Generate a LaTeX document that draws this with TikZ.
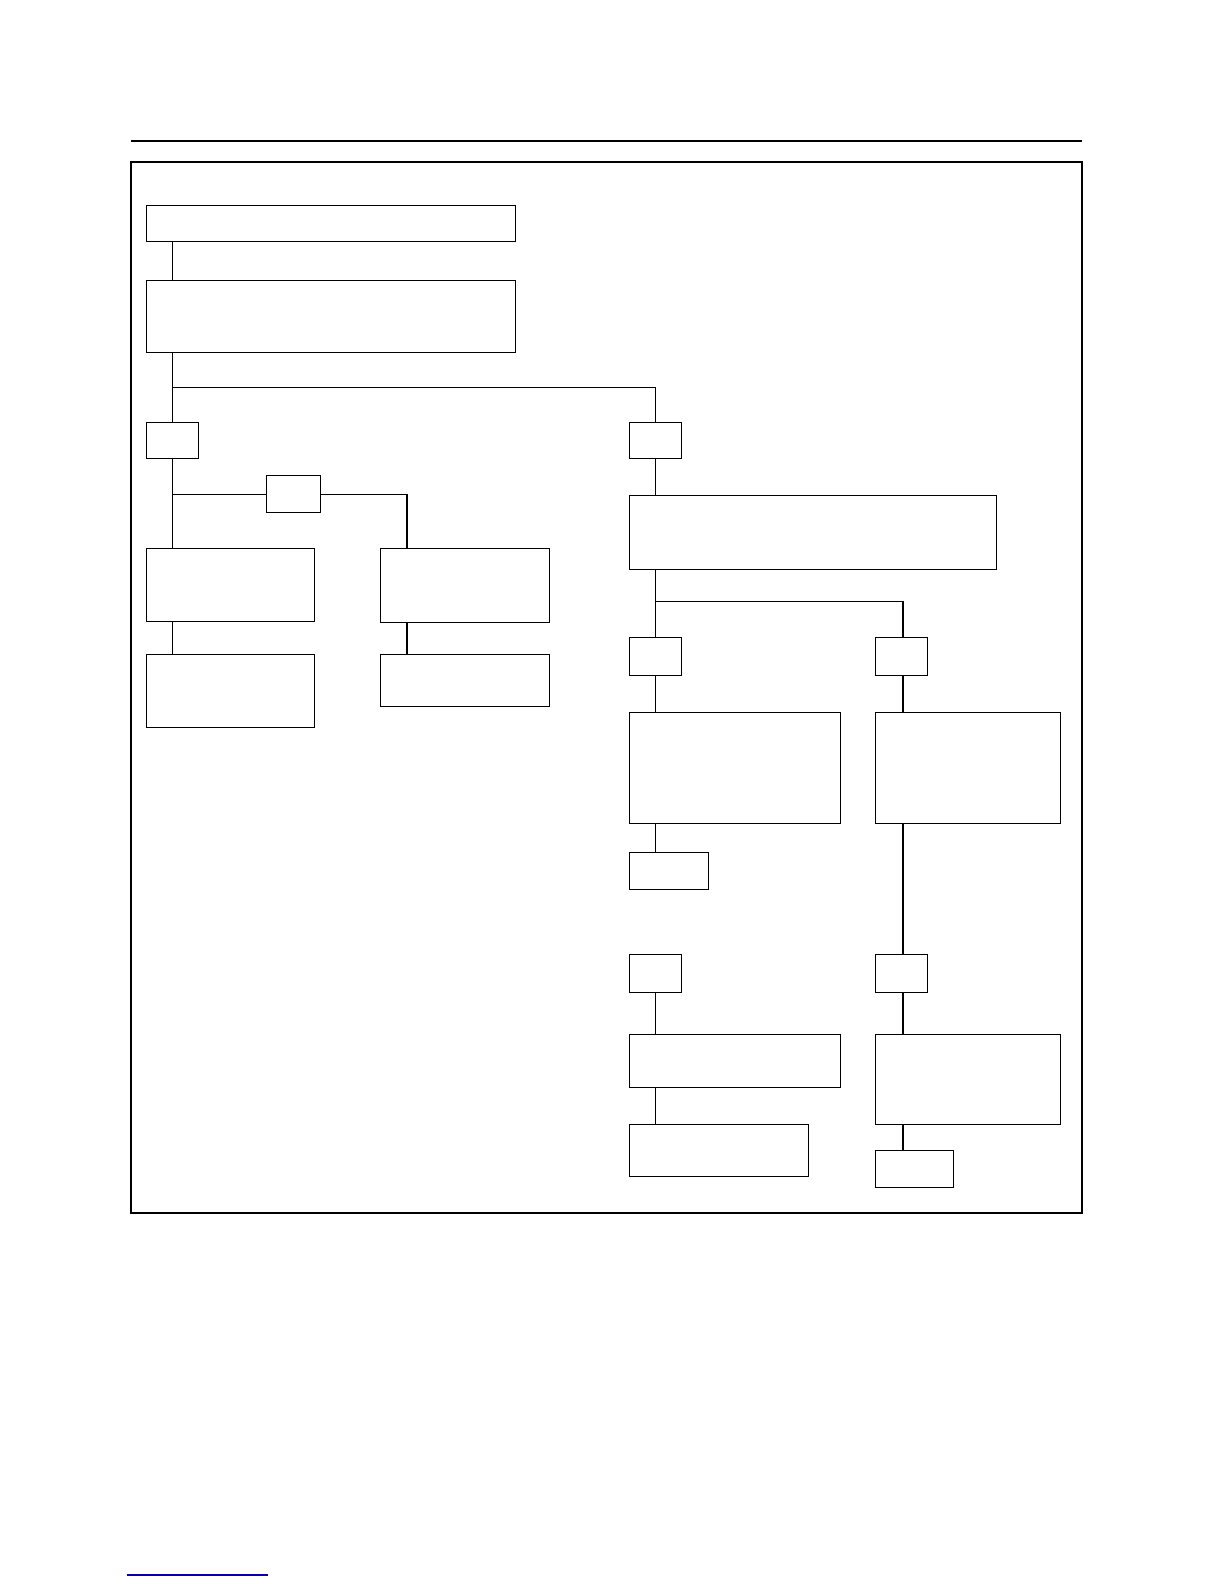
\documentclass[tikz,border=0pt]{standalone}
\usepackage{tikz}
\usetikzlibrary{positioning}
\usetikzlibrary{calc}
\tikzstyle{block} = [draw, rectangle, line width=1.2pt, inner sep=0pt, anchor=north west]
\tikzstyle{link} = [line width=1.2pt]
\tikzstyle{coord} = [coordinate]

\begin{document}
\begin{tikzpicture}[x=1pt,y=-1pt]
    \useasboundingbox (0,0) rectangle (1224,1584);
    \draw [line width=2.4pt] (131,141) -- (1082,141);
    \draw [line width=1.4pt] (131,162) rectangle (1082,1213);

    \node [block, minimum width=369pt, minimum height=36pt] (title) at (146,205) {};
    \node [block, minimum width=369pt, minimum height=72pt] (info) at (146,280) {};
    \node [block, minimum width=52pt, minimum height=36pt] (L1) at (146,422) {};
    \node [block, minimum width=52pt, minimum height=36pt] (R1) at (629,422) {};
    \node [block, minimum width=54pt, minimum height=37pt] (M) at (266,475) {};
    \node [block, minimum width=168pt, minimum height=73pt] (L2a) at (146,548) {};
    \node [block, minimum width=169pt, minimum height=74pt] (L2b) at (380,548) {};
    \node [block, minimum width=168pt, minimum height=73pt] (L3a) at (146,654) {};
    \node [block, minimum width=169pt, minimum height=52pt] (L3b) at (380,654) {};
    \node [block, minimum width=367pt, minimum height=74pt] (R2) at (629,495) {};
    \node [block, minimum width=52pt, minimum height=38pt] (R3a) at (629,637) {};
    \node [block, minimum width=52pt, minimum height=38pt] (R3b) at (875,637) {};
    \node [block, minimum width=211pt, minimum height=111pt] (R4a) at (629,712) {};
    \node [block, minimum width=185pt, minimum height=111pt] (R4b) at (875,712) {};
    \node [block, minimum width=79pt, minimum height=37pt] (R5a) at (629,852) {};
    \node [block, minimum width=52pt, minimum height=38pt] (R6a) at (629,954) {};
    \node [block, minimum width=52pt, minimum height=38pt] (R6b) at (875,954) {};
    \node [block, minimum width=211pt, minimum height=53pt] (R7a) at (629,1034) {};
    \node [block, minimum width=185pt, minimum height=90pt] (R7b) at (875,1034) {};
    \node [block, minimum width=179pt, minimum height=52pt] (R8a) at (629,1124) {};
    \node [block, minimum width=78pt, minimum height=37pt] (R8b) at (875,1150) {};
    \node [coord] (colB) at (407,0) {};
    \node [coord] (colD) at (903,0) {};

    \draw [link] (title.south -| L1) -- (info.north -| L1);
    \draw [link] (info.south -| L1) -- (L1.north);
    \draw [link] ($(info.south -| L1)!0.5!(L1.north)$) -| (R1.north);
    \draw [link] (L1.south) -- (L2a.north -| L1);
    \draw [link] (L1 |- M.west) -- (M.west);
    \draw [link] (M.east) -| (L2b.north -| colB);
    \draw [link] (L2a.south -| L1) -- (L3a.north -| L1);
    \draw [link] (L2b.south -| colB) -- (L3b.north -| colB);
    \draw [link] (R1.south) -- (R2.north -| R1);
    \draw [link] (R2.south -| R1) -- (R3a.north);
    \draw [link] ($(R2.south -| R1)!0.47!(R3a.north)$) -| (R3b.north -| colD);
    \draw [link] (R3a.south) -- (R4a.north -| R3a);
    \draw [link] (R3b.south -| colD) -- (R4b.north -| colD);
    \draw [link] (R4a.south -| R3a) -- (R5a.north -| R3a);
    \draw [link] (R4b.south -| colD) -- (R6b.north -| colD);
    \draw [link] (R6a.south) -- (R7a.north -| R6a);
    \draw [link] (R6b.south -| colD) -- (R7b.north -| colD);
    \draw [link] (R7a.south -| R6a) -- (R8a.north -| R6a);
    \draw [link] (R7b.south -| colD) -- (R8b.north -| colD);

    \draw [line width=1.2pt, blue!70!black] (127,1575) -- (268,1575);
\end{tikzpicture}
\end{document}
